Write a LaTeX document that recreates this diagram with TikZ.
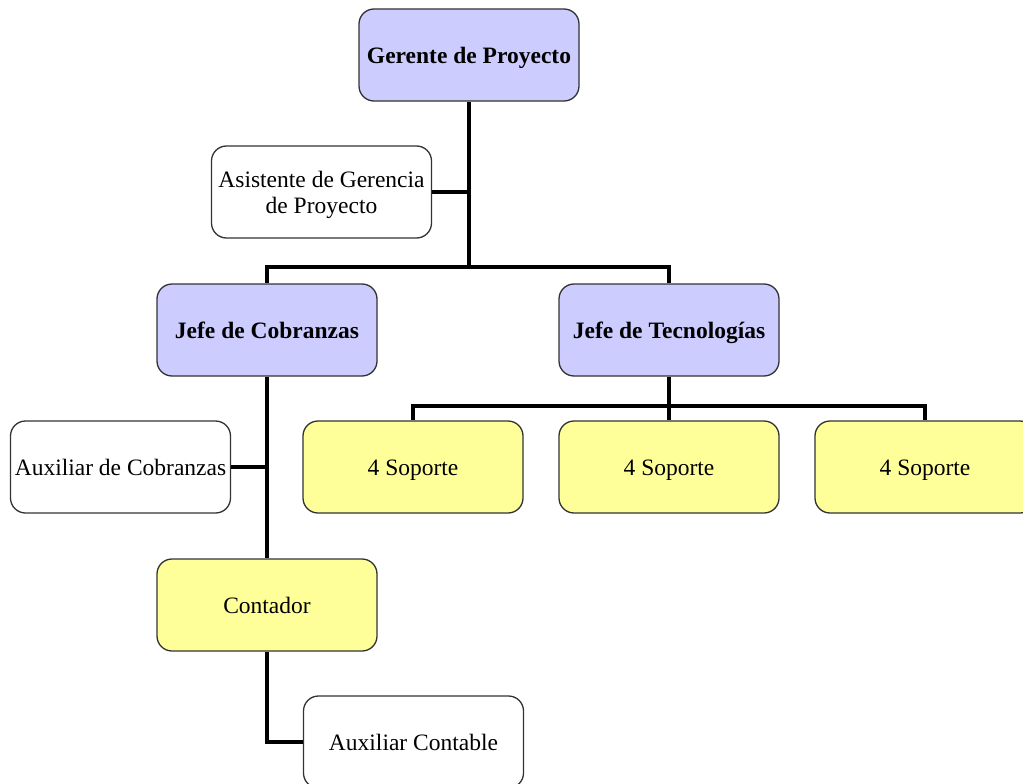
\documentclass[tikz,border=0pt]{standalone}
\usepackage{fontspec}
\setmainfont{Liberation Serif}
\begin{document}
\begin{tikzpicture}[x=1pt,y=-1pt,
  box/.style={draw=black!80,line width=1.3pt,rounded corners=15pt,minimum width=220pt,minimum height=92pt,inner sep=2pt,align=center,font=\fontsize{23.5}{26}\selectfont},
  oneline/.style={text height=20pt,text depth=3pt},
  lead/.style={box,oneline,fill=purplebox,font=\fontsize{23.5}{26}\selectfont\bfseries},
  staff/.style={box,oneline,fill=yellowbox},
  aide/.style={box,oneline,fill=white},
  aidetwo/.style={box,fill=white},
  conn/.style={line width=3.8pt,black}]
\definecolor{purplebox}{RGB}{204,204,255}
\definecolor{yellowbox}{RGB}{255,255,153}
\useasboundingbox (0,0) rectangle (1023,784);
\clip (0,0) rectangle (1023,784);
\fill[white] (0,0) rectangle (1023,784);
\node[lead] (ger) at (469,55) {Gerente de Proyecto};
\node[aidetwo] (asis) at (321.5,192) {\rule{0pt}{23pt}Asistente de Gerencia\\de Proyecto};
\node[lead] (jc) at (267,330) {Jefe de Cobranzas};
\node[lead] (jt) at (669,330) {Jefe de Tecnologías};
\node[staff] (s1) at (413,467) {4 Soporte};
\node[staff] (s2) at (669,467) {4 Soporte};
\node[staff] (s3) at (925,467) {4 Soporte};
\node[aide] (aux1) at (120.5,467) {Auxiliar de Cobranzas};
\node[staff] (cont) at (267,605) {Contador};
\node[aide] (auxc) at (413.5,742) {Auxiliar Contable};
\coordinate (j1) at (469,267);
\coordinate (j2) at (669,406);
\draw[conn] (ger.south) -- (j1);
\draw[conn] (j1) -| (jc.north);
\draw[conn] (j1) -| (jt.north);
\draw[conn] (asis.east) -- (asis.east -| ger.south);
\draw[conn] (jt.south) -- (s2.north);
\draw[conn] (j2) -| (s1.north);
\draw[conn] (j2) -| (s3.north);
\draw[conn] (jc.south) -- (cont.north);
\draw[conn] (aux1.east) -- (aux1.east -| jc.south);
\draw[conn] (cont.south) |- (auxc.west);
\end{tikzpicture}
\end{document}
